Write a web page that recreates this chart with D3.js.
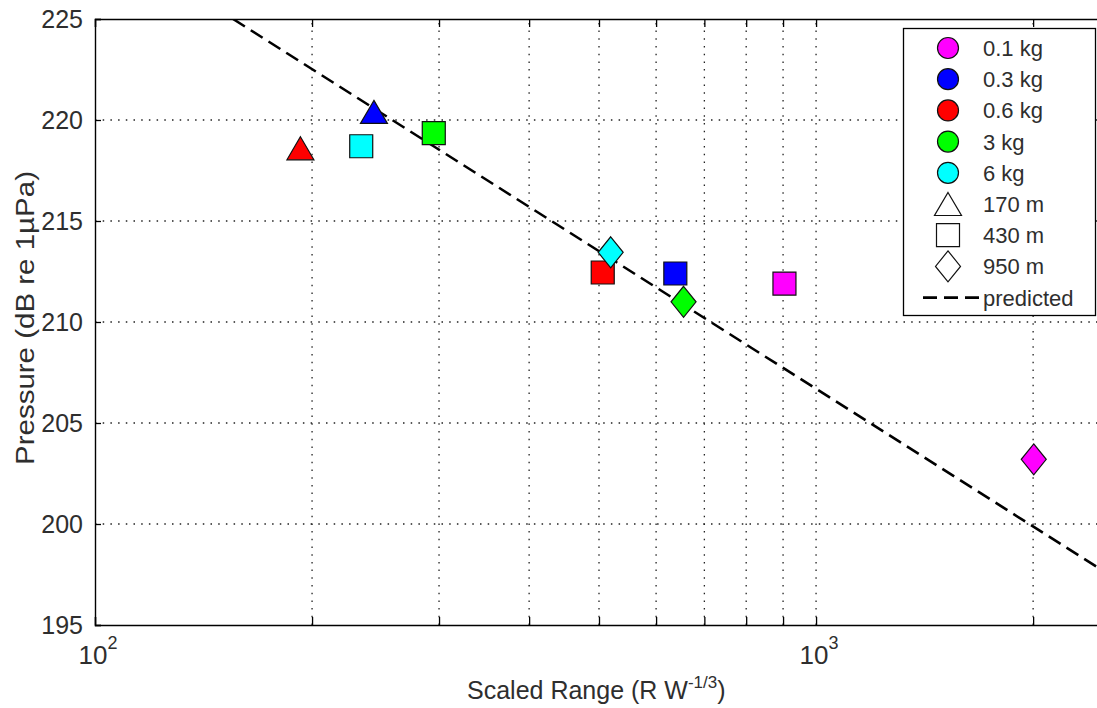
<!DOCTYPE html>
<html><head><meta charset="utf-8">
<script src="https://cdn.jsdelivr.net/npm/d3@7"></script>
<style>body{margin:0;background:#fff}svg{display:block;font-family:"Liberation Sans",Arial,Helvetica,sans-serif}</style>
</head><body><svg id="c" width="1097" height="708"></svg>
<script>
// ---- data ----
const charges = ["0.1 kg", "0.3 kg", "0.6 kg", "3 kg", "6 kg"];
const ranges = ["170 m", "430 m", "950 m"];
const pointCharge = ["0.6 kg", "0.3 kg", "6 kg", "3 kg", "0.6 kg", "6 kg", "0.3 kg", "3 kg", "0.1 kg", "0.1 kg"];
const pointRange  = ["170 m", "170 m", "430 m", "430 m", "430 m", "950 m", "430 m", "950 m", "430 m", "950 m"];
const pointScaled = [192.7, 243.7, 234, 295, 506, 519, 638, 655, 904, 2004];
const pointPressure = [218.6, 220.4, 218.7, 219.35, 212.45, 213.45, 212.4, 211.0, 211.9, 203.2];
const predictedScaled = [155.4, 2500];
const predictedPressure = [225.0, 197.68];
const yTicks = [195, 200, 205, 210, 215, 220, 225];
const xMajor = [100, 1000];
const xMinor = [200, 300, 400, 500, 600, 700, 800, 900, 2000];

// ---- styles ----
const chargeColor = {"0.1 kg": "#ff00ff", "0.3 kg": "#0000ff", "0.6 kg": "#ff0000", "3 kg": "#00ff00", "6 kg": "#00ffff"};
const rangeShape = {"170 m": "tri", "430 m": "sq", "950 m": "dia"};
function shapePath(s) {
  if (s === "tri") return "M0,-11.5 L13.5,11.5 L-13.5,11.5 Z";
  if (s === "sq") return "M-11.5,-11.5 H11.5 V11.5 H-11.5 Z";
  if (s === "dia") return "M0,-15.5 L12.5,0 L0,15.5 L-12.5,0 Z";
  return "";
}

const svg = d3.select("#c");
const L = 95, R = 1103, T = 19, B = 625;
const x = d3.scaleLog().domain([100, 2500]).range([L, R]);
const y = d3.scaleLinear().domain([195, 225]).range([B, T]);
const txt = "#2e2e2e";

svg.append("defs").append("clipPath").attr("id", "clip")
  .append("rect").attr("x", L).attr("y", T).attr("width", R - L).attr("height", B - T);

// grid
const grid = svg.append("g").attr("stroke", "#222").attr("stroke-width", 1.3).attr("stroke-dasharray", "1.5 6.2");
[...xMinor, 1000].forEach(v => grid.append("line").attr("x1", x(v)).attr("x2", x(v)).attr("y1", B).attr("y2", T));
yTicks.filter(v => v > 195 && v < 225).forEach(v => grid.append("line").attr("x1", L).attr("x2", R).attr("y1", y(v)).attr("y2", y(v)));

// axes via d3
const xAxisB = d3.axisBottom(x).tickValues([...xMajor, ...xMinor]).tickSize(-8).tickFormat("");
const gxb = svg.append("g").attr("transform", `translate(0,${B})`).call(xAxisB);
const xAxisT = d3.axisTop(x).tickValues([...xMajor, ...xMinor]).tickSize(-8).tickFormat("");
const gxt = svg.append("g").attr("transform", `translate(0,${T})`).call(xAxisT);
const yAxis = d3.axisLeft(y).tickValues(yTicks).tickSize(-6).tickPadding(12).tickFormat(d3.format("d"));
const gy = svg.append("g").attr("transform", `translate(${L},0)`).call(yAxis);
[gxb, gxt, gy].forEach(g => {
  g.select(".domain").attr("stroke", "#000").attr("stroke-width", 1.4);
  g.selectAll(".tick line").attr("stroke", "#000").attr("stroke-width", 1.3);
});
gy.selectAll(".tick text").attr("fill", txt).attr("font-size", 25).attr("font-family", "Liberation Sans, Arial, sans-serif");

// x major labels with superscripts
xMajor.forEach(v => {
  const t = svg.append("text").attr("x", x(v) + 3).attr("y", 664).attr("text-anchor", "middle")
    .attr("fill", txt).attr("font-size", 26);
  t.append("tspan").text("10");
  t.append("tspan").attr("font-size", 18).attr("dy", -15).text(String(Math.round(Math.log10(v))));
});

// axis titles
const xt = svg.append("text").attr("x", 467).attr("y", 699).attr("fill", txt).attr("font-size", 25);
xt.append("tspan").text("Scaled Range (R W");
xt.append("tspan").attr("font-size", 17).attr("dy", -11).text("-1/3");
xt.append("tspan").attr("dy", 11).text(")");

svg.append("text").attr("transform", "translate(34,318) rotate(-90) scale(1.18,1)").attr("text-anchor", "middle")
  .attr("fill", txt).attr("font-size", 25).text("Pressure (dB re 1\u00b5Pa)");

// plot content
const plot = svg.append("g").attr("clip-path", "url(#clip)");
const line = d3.line().x(d => x(d[0])).y(d => y(d[1]));
plot.append("path").datum(predictedScaled.map((v, i) => [v, predictedPressure[i]]))
  .attr("d", line).attr("fill", "none").attr("stroke", "#000").attr("stroke-width", 2.6)
  .attr("stroke-dasharray", "14 7");

plot.selectAll(".pt").data(pointScaled.map((v, i) => ({sx: v, p: pointPressure[i], c: pointCharge[i], r: pointRange[i]})))
  .enter().append("path").attr("class", "pt")
  .attr("transform", d => `translate(${x(d.sx)},${y(d.p)})`)
  .attr("d", d => shapePath(rangeShape[d.r]))
  .attr("fill", d => chargeColor[d.c]).attr("stroke", "#111").attr("stroke-width", 1.2);

// legend
const lg = svg.append("g");
lg.append("rect").attr("x", 903.5).attr("y", 28.5).attr("width", 192).attr("height", 287)
  .attr("fill", "#fff").attr("stroke", "#000").attr("stroke-width", 1.3);
const rowY = i => 48 + i * 31.2;
const lx = 948, tx = 983;
charges.forEach((c, i) => {
  lg.append("circle").attr("cx", lx).attr("cy", rowY(i)).attr("r", 10.5)
    .attr("fill", chargeColor[c]).attr("stroke", "#111").attr("stroke-width", 1.2);
  lg.append("text").attr("x", tx).attr("y", rowY(i)).attr("dy", "0.36em").attr("fill", txt).attr("font-size", 22).text(c);
});
ranges.forEach((r, j) => {
  const i = charges.length + j;
  lg.append("path").attr("transform", `translate(${lx},${rowY(i)})`).attr("d", shapePath(rangeShape[r]))
    .attr("fill", "#fff").attr("stroke", "#111").attr("stroke-width", 1.2);
  lg.append("text").attr("x", tx).attr("y", rowY(i)).attr("dy", "0.36em").attr("fill", txt).attr("font-size", 22).text(r);
});
{
  const i = charges.length + ranges.length;
  lg.append("line").attr("x1", 923).attr("x2", 980).attr("y1", rowY(i)).attr("y2", rowY(i))
    .attr("stroke", "#000").attr("stroke-width", 2.6).attr("stroke-dasharray", "14 7");
  lg.append("text").attr("x", tx).attr("y", rowY(i)).attr("dy", "0.36em").attr("fill", txt).attr("font-size", 22).text("predicted");
}
</script></body></html>
